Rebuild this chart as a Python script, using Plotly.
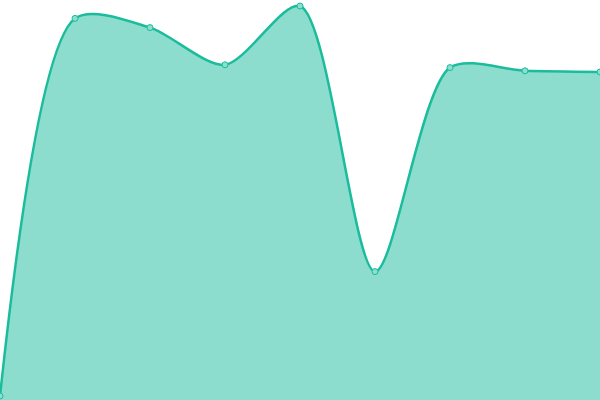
import plotly.graph_objects as go

x_values = [0, 1, 2, 3, 4, 5, 6, 7, 8]
y_values = [1, 95.4, 93.1, 83.8, 98.5, 32.1, 83.1, 82.3, 82]

line_color = "#1abc9c"

fig = go.Figure()

fig.add_trace(go.Scatter(
    x=x_values,
    y=y_values,
    mode="lines+markers",
    line=dict(color=line_color, width=2.5, shape="spline", smoothing=0.8),
    fill="tozeroy",
    fillcolor="rgba(26,188,156,0.5)",
    marker=dict(size=6, color="rgba(140,222,206,1)", line=dict(color=line_color, width=1)),
    cliponaxis=False,
))

fig.update_layout(
    width=600,
    height=400,
    margin=dict(l=0, r=0, t=0, b=0),
    plot_bgcolor="white",
    paper_bgcolor="white",
    showlegend=False,
    xaxis=dict(range=[0, 8], visible=False),
    yaxis=dict(range=[0, 100], visible=False),
)

# page has a default 8px body margin, drop it so the plot fills the window
fig.write_html(
    "out.html",
    config={"displayModeBar": False},
    post_script="document.body.style.margin='0';",
)
